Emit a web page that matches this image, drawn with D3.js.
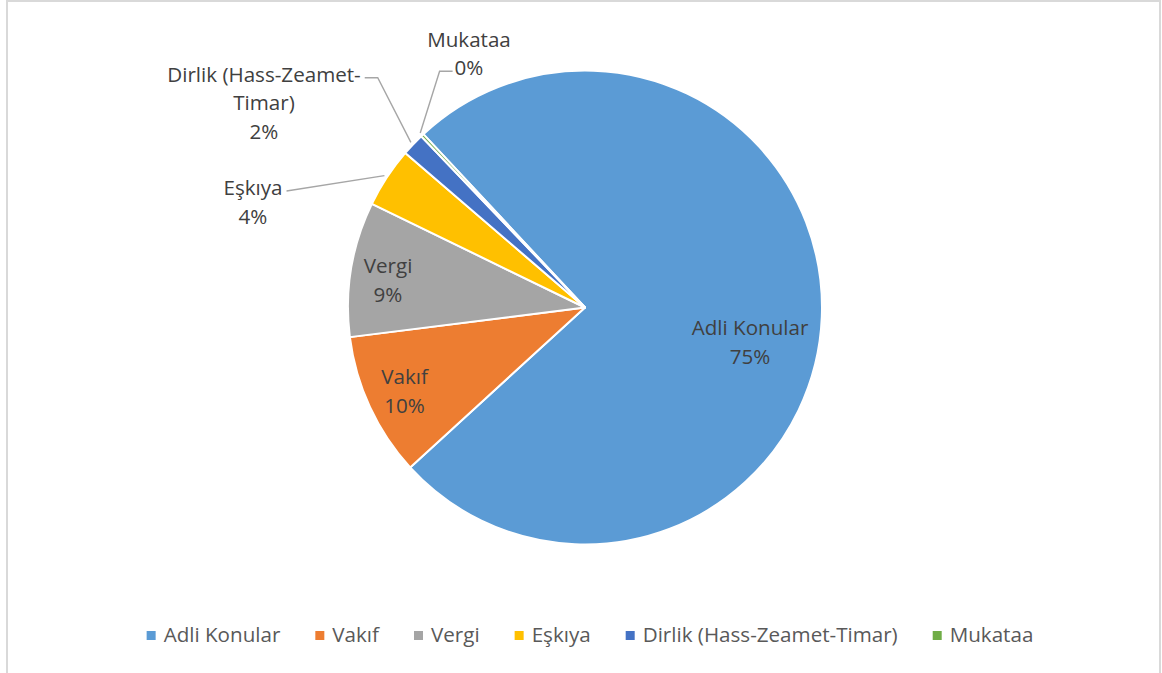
<!DOCTYPE html>
<html>
<head>
<meta charset="utf-8">
<script src="https://cdn.jsdelivr.net/npm/d3@7"></script>
<style>
  html, body { margin: 0; padding: 0; background: #ffffff; }
  svg { display: block; }
  text { font-family: "Open Sans", "Noto Sans", sans-serif; }
</style>
</head>
<body>
<svg id="chart" width="1162" height="673"></svg>
<script>
// ---- data ----
const categories = ["Adli Konular", "Vakıf", "Vergi", "Eşkıya", "Dirlik (Hass-Zeamet-Timar)", "Mukataa"];
const values = [75.15, 9.8, 9.2, 4.1, 1.55, 0.2];
const labelNameLines = [["Adli Konular"], ["Vakıf"], ["Vergi"], ["Eşkıya"], ["Dirlik (Hass-Zeamet-", "Timar)"], ["Mukataa"]];
const colors = ["#5B9BD5", "#ED7D31", "#A5A5A5", "#FFC000", "#4472C4", "#70AD47"];

// ---- layout ----
const W = 1162, H = 673;
const cx = 585, cy = 307.5, R = 237;
const startDeg = -43;
const fontSize = 20.6;
const lineH = 28.5;
// label anchor: (dx, dy) from pie centre to centre-x / first baseline of the label
const labelOffsets = [
  { dx: 165, dy: 27.5, outside: false },
  { dx: -180.5, dy: 76.8, outside: false },
  { dx: -197, dy: -34.2, outside: false },
  { dx: -332, dy: -112.5, outside: true, line: 0, side: "right", elbow: 0 },
  { dx: -321, dy: -225.8, outside: true, line: 0, side: "right", elbow: 13 },
  { dx: -116, dy: -260.8, outside: true, line: 1, side: "left", elbow: -13 }
];

const svg = d3.select("#chart");

// chart frame
svg.append("rect")
  .attr("x", 7).attr("y", 1)
  .attr("width", 1153).attr("height", H + 20)
  .attr("fill", "#ffffff")
  .attr("stroke", "#d9d9d9").attr("stroke-width", 2);

const total = d3.sum(values);
const data = categories.map((c, i) => ({ name: c, value: values[i], i }));

const pie = d3.pie()
  .value(d => d.value)
  .sort(null)
  .startAngle(startDeg * Math.PI / 180)
  .endAngle(startDeg * Math.PI / 180 + 2 * Math.PI);

const arcs = pie(data);
const arc = d3.arc().innerRadius(0).outerRadius(R);

const g = svg.append("g").attr("transform", `translate(${cx},${cy})`);

g.selectAll("path.slice")
  .data(arcs)
  .enter().append("path")
  .attr("class", "slice")
  .attr("d", arc)
  .attr("fill", d => colors[d.data.i])
  .attr("stroke", "#ffffff")
  .attr("stroke-width", 2)
  .attr("stroke-linejoin", "round");

// labels
const pct = v => Math.round(v / total * 100) + "%";

arcs.forEach(a => {
  const i = a.data.i;
  const lo = labelOffsets[i];
  const lines = labelNameLines[i].concat([pct(a.data.value)]);
  const lg = g.append("g").attr("class", "label");
  const texts = lines.map((t, k) =>
    lg.append("text")
      .attr("x", lo.dx)
      .attr("y", lo.dy + k * lineH)
      .attr("text-anchor", "middle")
      .attr("font-size", fontSize)
      .attr("fill", "#404040")
      .text(t)
  );
  if (lo.outside) {
    const node = texts[lo.line].node();
    const bb = node.getBBox();
    const ay = lo.dy + lo.line * lineH - 4;
    const ax = lo.side === "right" ? bb.x + bb.width + 4 : bb.x - 2;
    const mid = (a.startAngle + a.endAngle) / 2;
    const rr = R + 3;
    const px = rr * Math.sin(mid), py = -rr * Math.cos(mid);
    const pts = [[ax, ay]];
    if (lo.elbow) pts.push([ax + lo.elbow, ay]);
    pts.push([px, py]);
    g.insert("path", ".label")
      .attr("d", d3.line()(pts))
      .attr("fill", "none")
      .attr("stroke", "#a6a6a6")
      .attr("stroke-width", 1.4);
  }
});

// legend
const legendY = 635.5, sq = 9, sqGap = 8, itemGap = 35, legendCenter = 590;
const lgd = svg.append("g");
const items = categories.map((c, i) => {
  const t = lgd.append("text")
    .attr("font-size", fontSize)
    .attr("fill", "#595959")
    .attr("y", legendY + 6.5)
    .text(c);
  return { t, w: t.node().getComputedTextLength(), i };
});
const totalW = d3.sum(items, d => sq + sqGap + d.w) + itemGap * (items.length - 1);
let x = legendCenter - totalW / 2;
items.forEach(d => {
  lgd.append("rect")
    .attr("x", x).attr("y", legendY - sq / 2)
    .attr("width", sq).attr("height", sq)
    .attr("fill", colors[d.i]);
  d.t.attr("x", x + sq + sqGap);
  x += sq + sqGap + d.w + itemGap;
});
</script>
</body>
</html>
